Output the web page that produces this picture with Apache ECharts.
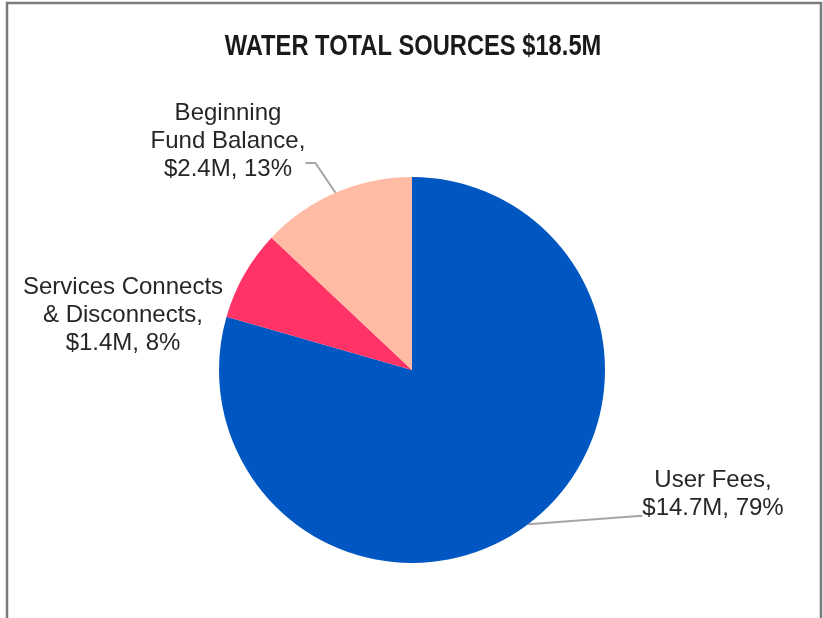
<!DOCTYPE html>
<html>
<head>
<meta charset="utf-8">
<script src="https://cdn.jsdelivr.net/npm/echarts@6/dist/echarts.min.js"></script>
<style>html,body{margin:0;padding:0;background:#fff}#c{width:823px;height:618px}</style>
</head>
<body>
<div id="c"></div>
<script>
const titleText = 'WATER TOTAL SOURCES $18.5M';
const categories = ['User Fees', 'Services Connects\n& Disconnects', 'Beginning\nFund Balance'];
const values = [14.7, 1.4, 2.4];
const colors = ['#0057C1', '#FF3366', '#FFBBA3'];
// label box centre, whether a spacer line is appended (aims the leader line), leader tail length
const labelPos = [[713, 516], [123, 315], [228, 163]];
const labelSpacer = [true, false, true];
const leaderTail = [4, 0, 10];

const chart = echarts.init(document.getElementById('c'), null, {renderer: 'canvas'});
chart.setOption({
  animation: false,
  backgroundColor: '#fff',
  graphic: [{
    type: 'rect', shape: {x: 7, y: 3, width: 814, height: 640},
    style: {fill: 'none', stroke: '#7a7a7a', lineWidth: 2.5}, silent: true
  }, {
    type: 'text', x: 413, y: 47, scaleX: 0.79, silent: true,
    style: {
      text: titleText, fill: '#1a1a1a', align: 'center', verticalAlign: 'middle',
      fontFamily: 'Liberation Sans, Arial', fontWeight: 'bold', fontSize: 30
    }
  }],
  series: [{
    type: 'pie',
    center: [412, 370],
    radius: [0, 193],
    startAngle: 90,
    clockwise: true,
    data: categories.map((n, i) => ({
      name: n, value: values[i],
      itemStyle: {color: colors[i]},
      labelLine: {show: i !== 1, length2: leaderTail[i]}
    })),
    label: {
      show: true,
      fontFamily: 'Liberation Sans, Arial',
      fontSize: 24,
      lineHeight: 28,
      color: '#262626',
      align: 'center',
      formatter: p => p.name + ',\n$' + p.value.toFixed(1) + 'M, ' + Math.round(p.percent) + '%' +
        (labelSpacer[p.dataIndex] ? '\n{sp| }' : ''),
      rich: {sp: {fontSize: 4, lineHeight: 44}}
    },
    labelLine: {lineStyle: {color: '#a6a6a6', width: 2}, length: 15},
    labelLayout: p => ({
      x: labelPos[p.dataIndex][0], y: labelPos[p.dataIndex][1],
      align: 'center', verticalAlign: 'middle'
    })
  }]
});
</script>
</body>
</html>
